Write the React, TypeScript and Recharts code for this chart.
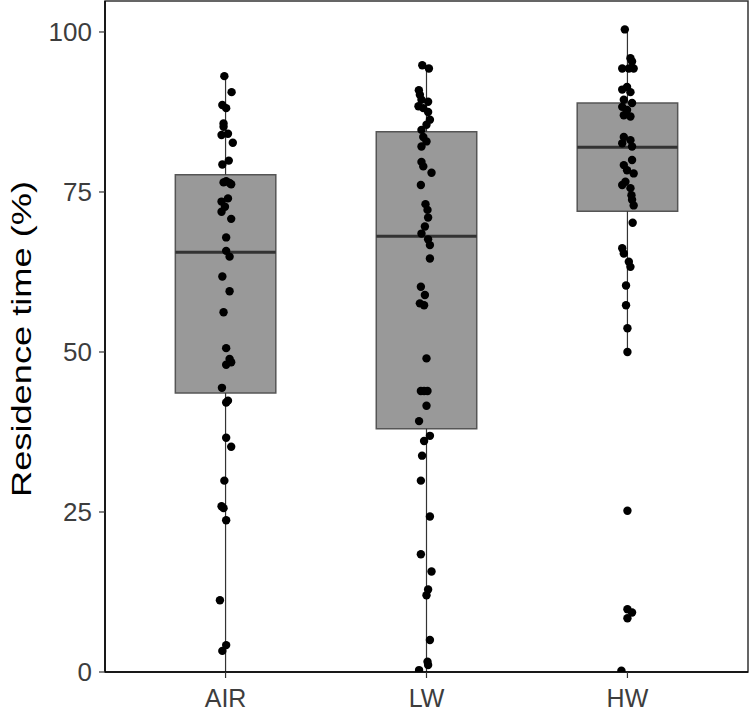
import React from "react";
import {
  ComposedChart,
  Scatter,
  XAxis,
  YAxis,
  ReferenceArea,
  ReferenceLine,
} from "recharts";

const categories = ["AIR", "LW", "HW"];
const yTicks = [0, 25, 50, 75, 100];

// box statistics per category
const q1 = [43.6, 38.0, 72.0];
const median = [65.6, 68.1, 82.0];
const q3 = [77.7, 84.4, 88.9];
const whiskerLow = [0, 0, 50.0];
const whiskerHigh = [93.1, 94.8, 100.4];

// [value, horizontal jitter]
const airPoints: [number, number][] = [
  [93.1, -0.006], [90.6, 0.03], [88.6, -0.016], [88.1, 0.003], [85.7, -0.01],
  [85.2, -0.01], [83.9, -0.02], [84.1, 0.012], [82.7, 0.036], [79.9, 0.016],
  [79.3, -0.016], [76.5, -0.01], [76.4, 0.02], [76.7, 0.003], [76.2, 0.028],
  [74.0, 0.012], [73.5, -0.02], [72.7, -0.003], [71.9, -0.02], [70.8, 0.028],
  [67.9, 0.003], [65.8, 0.003], [64.9, 0.02], [61.8, -0.016], [59.5, 0.02],
  [56.2, -0.01], [50.6, 0.003], [48.9, 0.02], [48.4, 0.028], [48.0, 0.003],
  [44.4, -0.018], [42.4, 0.012], [42.1, 0.003], [36.6, 0.003], [35.2, 0.028],
  [29.9, -0.006], [25.9, -0.02], [25.6, -0.01], [23.7, 0.003], [11.2, -0.028],
  [4.2, 0.003], [3.3, -0.016],
];

const lwPoints: [number, number][] = [
  [94.8, -0.021], [94.3, 0.012], [90.9, -0.038], [90.2, -0.033], [89.4, -0.025],
  [89.1, 0.008], [88.4, -0.04], [88.1, -0.016], [87.5, 0.008], [86.3, 0.017],
  [85.5, 0], [84.7, -0.025], [83.6, -0.016], [82.9, 0], [82.1, -0.025],
  [79.7, -0.025], [79.0, -0.016], [78.0, 0.025], [76.1, -0.028], [73.1, -0.005],
  [72.2, 0.005], [71.0, 0.008], [69.6, -0.008], [68.5, -0.025], [67.6, 0.008],
  [66.7, 0.017], [64.6, 0.017], [60.2, -0.028], [58.9, -0.008], [57.6, -0.033],
  [57.3, -0.012], [49.0, 0], [43.9, -0.028], [43.9, 0.005], [43.9, -0.012],
  [41.6, 0], [39.2, -0.037], [36.9, 0.017], [36.1, -0.012], [33.8, -0.022],
  [29.9, -0.028], [24.3, 0.017], [18.4, -0.028], [15.7, 0.025], [12.9, 0.008],
  [12.0, 0], [5.0, 0.017], [1.6, 0.005], [1.1, 0.008], [0.3, -0.037],
];

const hwPoints: [number, number][] = [
  [100.4, -0.013], [95.9, 0.015], [95.4, 0.023], [94.3, -0.026], [94.3, 0.007],
  [94.3, 0.031], [91.4, -0.002], [91.0, -0.026], [90.6, 0.015], [89.4, -0.018],
  [88.9, 0.023], [88.3, -0.026], [87.8, -0.002], [87.0, -0.018], [86.8, 0.015],
  [83.6, -0.018], [83.1, 0.015], [82.6, -0.026], [82.1, 0.023], [80.0, 0.023],
  [79.2, -0.018], [78.4, -0.002], [77.9, 0.031], [76.6, -0.01], [76.1, -0.026],
  [75.6, 0.015], [74.5, 0.02], [73.8, 0.023], [72.9, 0.031], [70.2, 0.026],
  [66.2, -0.026], [65.4, -0.018], [64.1, 0.007], [63.3, 0.015], [60.4, -0.007],
  [57.3, -0.007], [53.7, 0], [50.0, 0], [25.2, 0], [9.8, 0],
  [9.3, 0.023], [8.4, 0], [0.2, -0.03],
];

const groups = [airPoints, lwPoints, hwPoints];
const Y_MAX = 104.84;
const BOX_HALF = 0.25;

const FONT = "'Liberation Sans', Arial, sans-serif";

const Dot = (props: any) => <circle cx={props.cx} cy={props.cy} r={4.2} fill="#000" />;

const YTick = ({ x, y, payload }: any) => (
  <text x={x} y={y} dy={9} textAnchor="end" fontSize={26} fill="#3d3d3d" fontFamily={FONT}>
    {payload.value}
  </text>
);

const XTick = ({ x, y, payload }: any) => (
  <text x={x} y={y + 29} textAnchor="middle" fontSize={25} fill="#3d3d3d" fontFamily={FONT}>
    {categories[payload.value - 1]}
  </text>
);

export default function App() {
  return (
    <div style={{ position: "absolute", left: 0, top: 0, width: 750, height: 711, background: "#fff" }}>
      <ComposedChart width={750} height={711} margin={{ top: 1, right: 2, bottom: 0, left: 0 }}>
        <XAxis
          type="number"
          dataKey="x"
          domain={[0.4, 3.6]}
          ticks={[1, 2, 3]}
          allowDataOverflow
          height={39}
          tickSize={6}
          tickMargin={0}
          stroke="#000"
          axisLine={{ stroke: "#000", strokeWidth: 1.5 }}
          tickLine={{ stroke: "#333", strokeWidth: 1.2 }}
          tick={<XTick />}
        />
        <YAxis
          type="number"
          dataKey="y"
          domain={[0, Y_MAX]}
          ticks={yTicks}
          allowDataOverflow
          width={105}
          tickSize={6}
          tickMargin={7}
          axisLine={{ stroke: "#000", strokeWidth: 1.5 }}
          tickLine={{ stroke: "#333", strokeWidth: 1.2 }}
          tick={<YTick />}
        />
        {/* panel frame */}
        <ReferenceArea x1={0.4} x2={3.6} y1={0} y2={Y_MAX} fill="none" stroke="#333" strokeWidth={1.5} />
        {categories.map((c, i) => (
          <ReferenceLine
            key={`wl-${c}`}
            segment={[{ x: i + 1, y: whiskerLow[i] }, { x: i + 1, y: q1[i] }]}
            stroke="#333"
            strokeWidth={1.2}
          />
        ))}
        {categories.map((c, i) => (
          <ReferenceLine
            key={`wh-${c}`}
            segment={[{ x: i + 1, y: q3[i] }, { x: i + 1, y: whiskerHigh[i] }]}
            stroke="#333"
            strokeWidth={1.2}
          />
        ))}
        {categories.map((c, i) => (
          <ReferenceArea
            key={`box-${c}`}
            x1={i + 1 - BOX_HALF}
            x2={i + 1 + BOX_HALF}
            y1={q1[i]}
            y2={q3[i]}
            fill="#999999"
            fillOpacity={1}
            stroke="#555"
            strokeWidth={1.5}
          />
        ))}
        {categories.map((c, i) => (
          <ReferenceLine
            key={`med-${c}`}
            segment={[{ x: i + 1 - BOX_HALF, y: median[i] }, { x: i + 1 + BOX_HALF, y: median[i] }]}
            stroke="#333"
            strokeWidth={3}
          />
        ))}
        {groups.map((pts, i) => (
          <Scatter
            key={`pts-${categories[i]}`}
            data={pts.map(([v, j]) => ({ x: i + 1 + j, y: v }))}
            shape={<Dot />}
            isAnimationActive={false}
          />
        ))}
      </ComposedChart>
      <svg width={50} height={711} style={{ position: "absolute", left: 0, top: 0 }}>
        <text
          transform="translate(31, 339) rotate(-90)"
          textAnchor="middle"
          fontSize={27}
          fontFamily={FONT}
          fill="#000"
          textLength={316}
          lengthAdjust="spacingAndGlyphs"
        >
          Residence time (%)
        </text>
      </svg>
    </div>
  );
}
